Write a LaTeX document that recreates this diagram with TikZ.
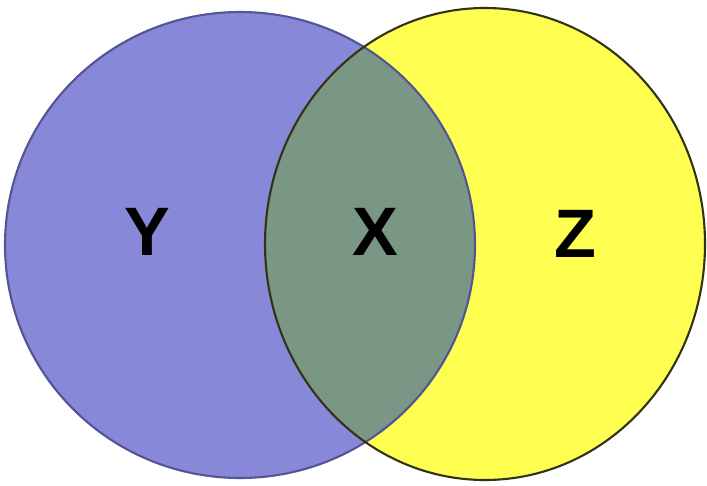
\documentclass[tikz,border=0pt]{standalone}
\usepackage{fontspec}
\setmainfont{Liberation Sans}
\definecolor{setblue}{RGB}{136,136,216}
\definecolor{setyellow}{RGB}{255,255,82}
\definecolor{setgreen}{RGB}{122,150,132}
\definecolor{edgeblue}{RGB}{60,60,120}
\definecolor{edgeolive}{RGB}{50,50,20}

\begin{document}
\begin{tikzpicture}[
    x=0.01cm, y=-0.01cm,
    setlabel/.style={font=\bfseries\fontsize{19.5}{19.5}\selectfont, text=black},
    edge/.style={line width=0.6pt}
]
\useasboundingbox (0,0) rectangle (707,485);

% Sets
\fill[setblue] (240,245) ellipse [x radius=235, y radius=233];
\fill[setyellow] (485,244) ellipse [x radius=220, y radius=236];
\begin{scope}
  \clip (240,245) ellipse [x radius=235, y radius=233];
  \fill[setgreen] (485,244) ellipse [x radius=220, y radius=236];
\end{scope}
\draw[edge, edgeblue!70!setblue] (240,245) ellipse [x radius=235, y radius=233];
\draw[edge, edgeolive] (485,244) ellipse [x radius=220, y radius=236];

% Labels
\node[setlabel] (y) at (147,232) {Y};
\node[setlabel] (x) at (375,232) {X};
\node[setlabel] (z) at (575,234) {Z};
\end{tikzpicture}
\end{document}
